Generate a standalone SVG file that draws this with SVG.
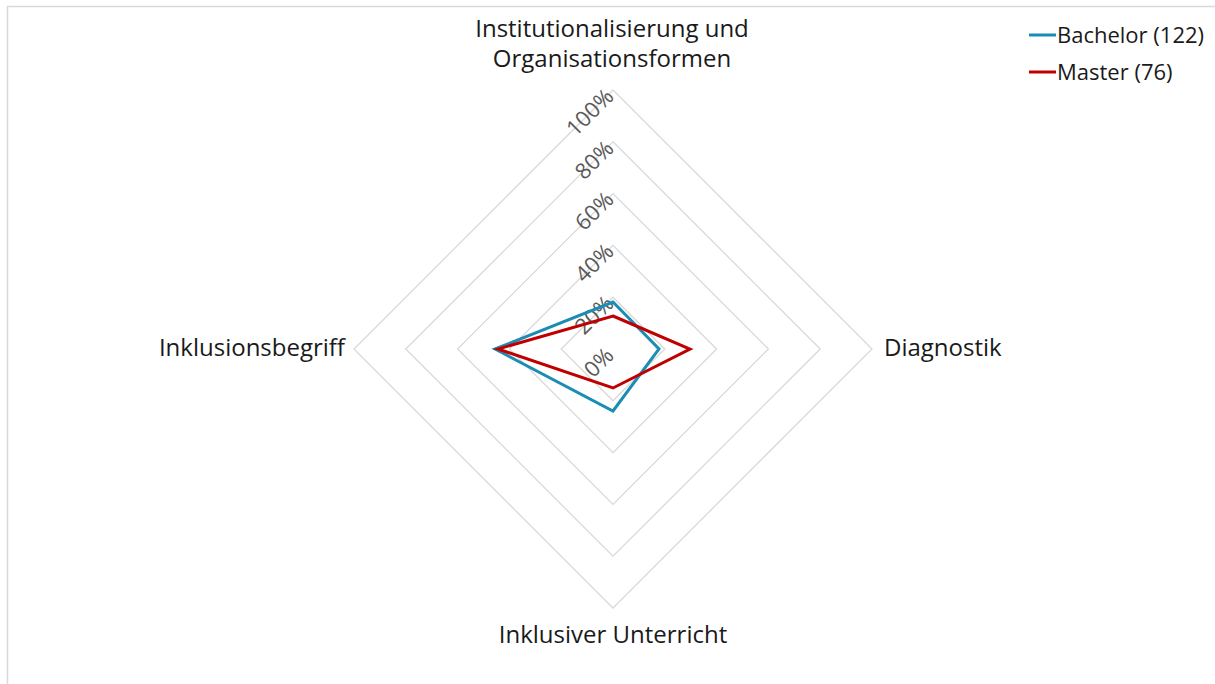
<svg xmlns="http://www.w3.org/2000/svg" width="1215" height="684" viewBox="0 0 1215 684">
<style>
.grid{fill:none;stroke:#d9d9d9;stroke-width:1.3}
.lbl{font-family:"Open Sans","Liberation Sans",sans-serif;font-size:24px;fill:#1a1a1a}
.leg{font-family:"Open Sans","Liberation Sans",sans-serif;font-size:22px;fill:#1a1a1a}
.tick{font-family:"Open Sans","Liberation Sans",sans-serif;font-size:22px;fill:#595959}
.ser{fill:none;stroke-width:3;stroke-linejoin:miter}
</style>
<rect x="0" y="0" width="1215" height="684" fill="#ffffff"/>
<path d="M7.5,684 V6.5 H1215" fill="none" stroke="#d9d9d9" stroke-width="1.5"/>
<g id="grid">
<polygon class="grid" points="613,297.2 664.8,349 613,400.8 561.2,349"/>
<polygon class="grid" points="613,245.4 716.6,349 613,452.6 509.4,349"/>
<polygon class="grid" points="613,193.6 768.4,349 613,504.4 457.6,349"/>
<polygon class="grid" points="613,141.8 820.2,349 613,556.2 405.8,349"/>
<polygon class="grid" points="613,90 872,349 613,608 354,349"/>
</g>
<g id="ticks">
<text class="tick" text-anchor="end" transform="translate(615,357) rotate(-45)">0%</text>
<text class="tick" text-anchor="end" transform="translate(615,305) rotate(-45)">20%</text>
<text class="tick" text-anchor="end" transform="translate(615,253) rotate(-45)">40%</text>
<text class="tick" text-anchor="end" transform="translate(615,201) rotate(-45)">60%</text>
<text class="tick" text-anchor="end" transform="translate(615,150) rotate(-45)">80%</text>
<text class="tick" text-anchor="end" transform="translate(615,98) rotate(-45)">100%</text>
</g>
<g id="connectors">
<polygon id="bachelor" class="ser" stroke="#1b8db5" points="613,302 659,349 613,411 495,349"/>
<polygon id="master" class="ser" stroke="#c00000" points="613,316 690,349 613,388 498,349"/>
</g>
<g id="axis-top"><text class="lbl" text-anchor="middle" x="612" y="37">Institutionalisierung und</text><text class="lbl" text-anchor="middle" x="612" y="67">Organisationsformen</text></g>
<g id="axis-right"><text class="lbl" x="884" y="356">Diagnostik</text></g>
<g id="axis-bottom"><text class="lbl" text-anchor="middle" x="613" y="643">Inklusiver Unterricht</text></g>
<g id="axis-left"><text class="lbl" text-anchor="end" x="345" y="356">Inklusionsbegriff</text></g>
<g id="legend">
<line x1="1029" y1="35" x2="1056" y2="35" stroke="#1b8db5" stroke-width="3"/>
<text class="leg" x="1057" y="43">Bachelor (122)</text>
<line x1="1029" y1="72" x2="1056" y2="72" stroke="#c00000" stroke-width="3"/>
<text class="leg" x="1057" y="80">Master (76)</text>
</g>
</svg>
